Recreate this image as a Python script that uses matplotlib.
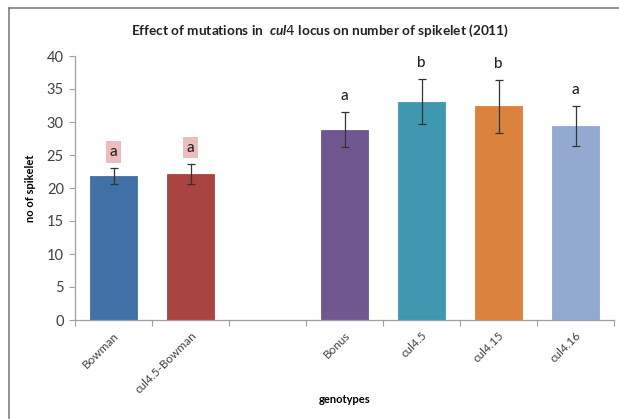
import numpy as np
import matplotlib
matplotlib.use("Agg")
import matplotlib.pyplot as plt
from matplotlib.lines import Line2D

# an empty slot separates the Bowman group from the Bonus group
genotypes = ["Bowman", "cul4.5-Bowman", "", "Bonus", "cul4.5", "cul4.15", "cul4.16"]
spikelets = [21.8, 22.1, None, 28.8, 33.1, 32.4, 29.4]
std_err = [1.2, 1.55, None, 2.65, 3.4, 4.0, 3.0]
letters = ["a", "a", "", "a", "b", "b", "a"]
colors = ["#4170A7", "#A94443", None, "#705790", "#3F98AF", "#DB833D", "#93A9CF"]
highlighted = [True, True, False, False, False, False, False]

plt.rcParams["font.family"] = ["Lato", "DejaVu Sans"]
plt.rcParams["mathtext.fontset"] = "custom"
plt.rcParams["mathtext.it"] = "Lato:italic:bold"

fig = plt.figure(figsize=(6.19, 4.19), dpi=100)
ax = fig.add_axes([75 / 619, 1 - 320 / 419, (614 - 75) / 619, (320 - 56) / 419])

x = np.arange(len(genotypes))
for i, g in enumerate(genotypes):
    if spikelets[i] is None:
        continue
    ax.bar(x[i], spikelets[i], width=0.61, color=colors[i],
           edgecolor=colors[i], linewidth=0.6, zorder=2)
    ax.errorbar(x[i], spikelets[i], yerr=std_err[i], fmt="none",
                ecolor="#333333", elinewidth=0.9, capsize=3, capthick=0.9, zorder=3)
    ty = spikelets[i] + std_err[i] + 1.4
    box = None
    if highlighted[i]:
        box = dict(boxstyle="square,pad=0.25", facecolor="#EBB5B5",
                   edgecolor="none", alpha=0.9)
    ax.text(x[i], ty, letters[i], ha="center", va="bottom", fontsize=11,
            fontweight="medium", color="#222222", bbox=box)

ax.set_xlim(-0.5, len(genotypes) - 0.5)
ax.set_ylim(0, 40)
ax.set_yticks(range(0, 41, 5))
ax.tick_params(axis="y", length=4, color="#A0A0A0", labelsize=10.5,
               labelcolor="#404040", pad=4)

# category boundary ticks, labels at centers
ax.set_xticks(np.arange(len(genotypes) + 1) - 0.5)
ax.set_xticklabels([])
ax.tick_params(axis="x", which="major", length=4, color="#A0A0A0")
ax.set_xticks(x, minor=True)
ax.set_xticklabels(genotypes, minor=True, rotation=45, ha="right",
                   rotation_mode="anchor", fontsize=8.5, color="#404040")
ax.tick_params(axis="x", which="minor", length=0, pad=7)

for s in ["top", "right"]:
    ax.spines[s].set_visible(False)
for s in ["left", "bottom"]:
    ax.spines[s].set_color("#A0A0A0")
    ax.spines[s].set_linewidth(0.9)

ax.set_ylabel("no of spikelet", fontsize=8, fontweight="bold", labelpad=8)
ax.set_xlabel("genotypes", fontsize=8, fontweight="bold", labelpad=10)
ax.xaxis.set_label_coords(0.5, -0.28)

fig.text(320 / 619, 1 - 31 / 419,
         r"Effect of mutations in  $\mathit{cul4}$ locus on number of spikelet (2011)",
         ha="center", va="center", fontsize=9.8, fontweight="bold", color="#222222")

# chart area border (only top and left visible in the crop)
fig.add_artist(Line2D([9 / 619, 9 / 619], [0, 1 - 8 / 419], color="#808080", lw=1.2))
fig.add_artist(Line2D([9 / 619, 1], [1 - 8 / 419, 1 - 8 / 419], color="#808080", lw=1.2))

fig.savefig("out.png", dpi=100)
